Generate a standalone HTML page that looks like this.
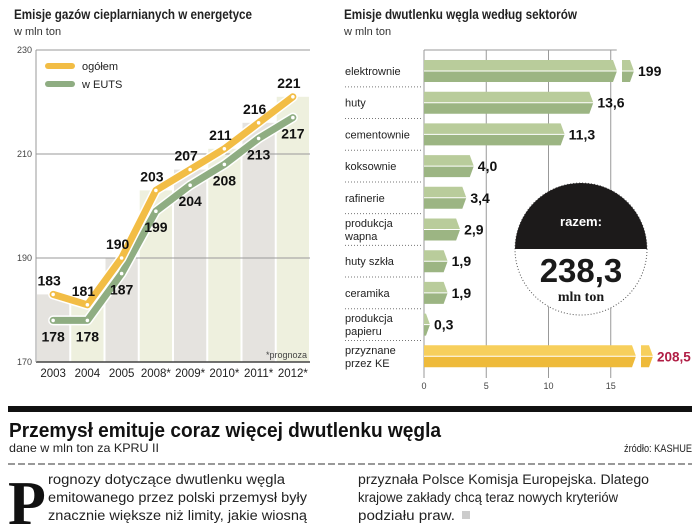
<!DOCTYPE html>
<html><head><meta charset="utf-8">
<style>
body{margin:0;background:#fff;width:700px;height:527px;overflow:hidden;font-family:"Liberation Sans",sans-serif}
svg{display:block}
</style></head><body>
<svg id="s" width="700" height="527" viewBox="0 0 700 527" xmlns="http://www.w3.org/2000/svg">
<text x="14" y="19" font-size="14" font-weight="bold" fill="#222" textLength="238" lengthAdjust="spacingAndGlyphs">Emisje gazów cieplarnianych w energetyce</text>
<text x="14" y="35" font-size="11" fill="#333">w mln ton</text>
<text x="344" y="19" font-size="14" font-weight="bold" fill="#222" textLength="233" lengthAdjust="spacingAndGlyphs">Emisje dwutlenku węgla według sektorów</text>
<text x="344" y="35" font-size="11" fill="#333">w mln ton</text>
<g id="left"></g>
<g id="right"></g>
<rect x="8" y="406" width="684" height="6" fill="#111"/>
<text x="9" y="437" font-size="20" font-weight="bold" fill="#111" textLength="432" lengthAdjust="spacingAndGlyphs">Przemysł emituje coraz więcej dwutlenku węgla</text>
<text x="9" y="452" font-size="12" fill="#222" textLength="150" lengthAdjust="spacingAndGlyphs">dane w mln ton za  KPRU II</text>
<text x="692" y="452" font-size="11" fill="#222" text-anchor="end" textLength="68" lengthAdjust="spacingAndGlyphs">źródło: KASHUE</text>
<line x1="8" y1="464" x2="692" y2="464" stroke="#333" stroke-width="1" stroke-dasharray="7,3"/>
<text x="8" y="524" font-size="62" font-family="Liberation Serif,serif" font-weight="bold" fill="#111">P</text>
<g font-size="13.5" fill="#222">
<text x="48" y="484" textLength="237" lengthAdjust="spacingAndGlyphs">rognozy dotyczące dwutlenku węgla</text>
<text x="48" y="502" textLength="259" lengthAdjust="spacingAndGlyphs">emitowanego przez polski przemysł były</text>
<text x="48" y="520" textLength="259" lengthAdjust="spacingAndGlyphs">znacznie większe niż limity, jakie wiosną</text>
<text x="358" y="484" textLength="291" lengthAdjust="spacingAndGlyphs">przyznała Polsce Komisja Europejska. Dlatego</text>
<text x="358" y="502" textLength="260" lengthAdjust="spacingAndGlyphs">krajowe zakłady chcą teraz nowych kryteriów</text>
<text x="358" y="520" textLength="97" lengthAdjust="spacingAndGlyphs">podziału praw.</text>
<rect x="462" y="511" width="8" height="8" fill="#ccc"/>
</g>
</svg>
<script>
const years=["2003","2004","2005","2008*","2009*","2010*","2011*","2012*"];
const total=[183,181,190,203,207,211,216,221];
const euts=[178,178,187,199,204,208,213,217];
const yTicks=[170,190,210,230];
const sectors=["elektrownie","huty","cementownie","koksownie","rafinerie","produkcja|wapna","huty szkła","ceramika","produkcja|papieru","przyznane|przez KE"];
const sectorVals=[199,13.6,11.3,4.0,3.4,2.9,1.9,1.9,0.3,208.5];
const sectorLabels=["199","13,6","11,3","4,0","3,4","2,9","1,9","1,9","0,3","208,5"];
const xTicks=[0,5,10,15];
const NS="http://www.w3.org/2000/svg";
function mk(p,tag,a,txt){const e=document.createElementNS(NS,tag);for(const k in a)e.setAttribute(k,a[k]);if(txt!=null)e.textContent=txt;p.appendChild(e);return e;}
const L=document.getElementById('left');
const x0=36,x1=310,cw=(x1-x0)/years.length;
const yS=v=>362-(v-170)*5.2;
const xC=i=>x0+cw*(i+0.5);
years.forEach((y,i)=>{
 const r=mk(L,'rect',{x:x0+cw*i+1,y:yS(total[i]),width:cw-2,height:362-yS(total[i]),fill:i%2?'#eef0de':'#e5e3df'});
 
 
 const t=mk(L,'text',{x:xC(i),y:377,'font-size':11.5,'text-anchor':'middle',fill:'#222'},y);
 
 
});
yTicks.forEach(v=>{
 const g=mk(L,'line',{x1:x0,x2:x1,y1:yS(v),y2:yS(v),stroke:v==170?'#444':'#999','stroke-width':v==170?1.5:1});
 
 
 const t=mk(L,'text',{x:x0-4,y:yS(v)+3,'font-size':9,'text-anchor':'end',fill:'#444'},v);
 
 
});
mk(L,'line',{x1:x0,x2:x0,y1:yS(230),y2:362,stroke:'#999'});
mk(L,'text',{x:x1-3,y:358,'font-size':9,'text-anchor':'end',fill:'#444'},'*prognoza');
function series(vals,col,nm,above){
 const pts=vals.map((v,i)=>xC(i)+','+yS(v)).join(' ');
 mk(L,'polyline',{points:pts,fill:'none',stroke:'#fff','stroke-width':10,'stroke-linejoin':'round','stroke-linecap':'round'});
 const p=mk(L,'polyline',{points:pts,fill:'none',stroke:col,'stroke-width':7,'stroke-linejoin':'round','stroke-linecap':'round'});
 
 
 vals.forEach((v,i)=>{
  const c=mk(L,'circle',{cx:xC(i),cy:yS(v),r:2.2,fill:'#fff',stroke:col,'stroke-width':0.8});
  
  
  const t=mk(L,'text',{x:xC(i)-(above?4:0),y:above?yS(v)-9:yS(v)+21,'font-size':14,'font-weight':'bold','text-anchor':'middle',fill:'#111'},v);
  
  
 });
}
series(euts,'#8fad82','euts',false);
series(total,'#f2bd45','total',true);
[['#f2bd45','ogółem',66],['#8fad82','w EUTS',84]].forEach(([c,l,y])=>{
 const r=mk(L,'line',{x1:48,x2:72,y1:y,y2:y,stroke:c,'stroke-width':6,'stroke-linecap':'round'});
 
 
 const t=mk(L,'text',{x:82,y:y+4,'font-size':11,fill:'#222'},l);
 
 
});
const R=document.getElementById('right');
const bx0=424,ppu=12.45,plotTop=50,rowH=31.7;
const xB=v=>bx0+v*ppu;
xTicks.forEach(v=>{
 const l=mk(R,'line',{x1:xB(v),x2:xB(v),y1:plotTop,y2:378,stroke:'#999'});
 
 
 const t=mk(R,'text',{x:xB(v),y:389,'font-size':9,'text-anchor':'middle',fill:'#444'},v);
 
 
});
mk(R,'line',{x1:bx0,x2:xB(15)+6,y1:plotTop,y2:plotTop,stroke:'#999'});
function bar(xa,xb,cy,light,dark,nm){
 const h=11,tip=4;
 const g=mk(R,'g',{});
 
 
 mk(g,'polygon',{points:`${xa},${cy-h} ${xb-tip},${cy-h} ${xb},${cy} ${xa},${cy}`,fill:light});
 mk(g,'polygon',{points:`${xa},${cy} ${xb},${cy} ${xb-tip},${cy+h} ${xa},${cy+h}`,fill:dark});
 mk(g,'line',{x1:xa,x2:xb,y1:cy,y2:cy,stroke:'#fff','stroke-width':1});
}
const maxV=16;
sectors.forEach((s,i)=>{
 const cy=plotTop+21+rowH*i;
 const v=sectorVals[i];
 const last=i==sectors.length-1;
 const light=last?'#f7cf5c':'#b9cc9b',dark=last?'#eeba3a':'#9cb583';
 let end;
 if(v>maxV){
  const e1=last?636:617;
  bar(bx0,e1,cy,light,dark,'bar-'+s.replace(/\|/g,' '));
  bar(e1+5,e1+17,cy,light,dark,'bar-break-'+i);
  end=e1+17;
 }else{
  end=Math.max(xB(v),bx0+6);
  bar(bx0,end,cy,light,dark,'bar-'+s.replace(/\|/g,' '));
 }
 const t=mk(R,'text',{x:end+4,y:cy+5,'font-size':last?13.5:14,'font-weight':'bold',fill:last?'#b01e45':'#111'},sectorLabels[i]);
 
 
 const parts=s.split('|');
 parts.forEach((p,j)=>{
  const lt=mk(R,'text',{x:345,y:cy+4+(parts.length>1?(j-0.5)*13:0),'font-size':11,fill:'#222'},p);
  
  
 });
 if(!last){const d=mk(R,'line',{x1:345,x2:421,y1:cy+rowH/2,y2:cy+rowH/2,stroke:'#777','stroke-dasharray':'1,2'});
 
 }
});
const cg=mk(R,'g',{});


const ccx=581,ccy=249,cr=66;
mk(cg,'circle',{cx:ccx,cy:ccy,r:cr,fill:'#fff',stroke:'#555','stroke-dasharray':'1,2'});
mk(cg,'path',{d:`M${ccx-cr},${ccy} A${cr},${cr} 0 0 1 ${ccx+cr},${ccy} Z`,fill:'#1c1a1a'});
mk(cg,'text',{x:ccx,y:226,'font-size':13,'font-weight':'bold',fill:'#fff','text-anchor':'middle'},'razem:');
mk(cg,'text',{x:ccx,y:282,'font-size':33,'font-weight':'bold',fill:'#1a1a1a','text-anchor':'middle'},'238,3');
mk(cg,'text',{x:ccx,y:301,'font-size':14,'font-weight':'bold',fill:'#1a1a1a','text-anchor':'middle','font-family':'Liberation Serif,serif'},'mln ton');
</script>
</body></html>
